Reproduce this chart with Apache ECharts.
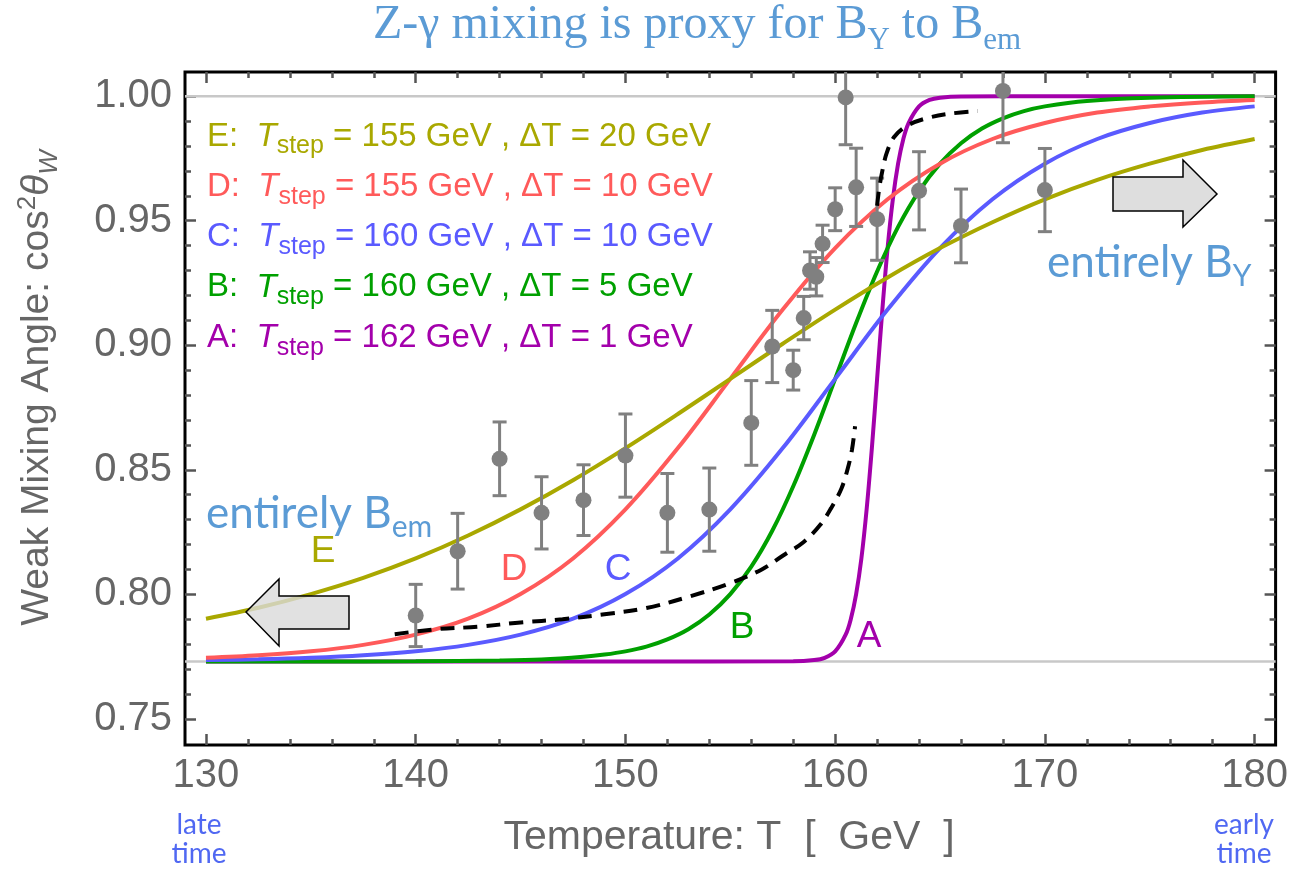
<!DOCTYPE html>
<html><head><meta charset="utf-8">
<script src="https://cdn.jsdelivr.net/npm/echarts@6/dist/echarts.min.js"></script>
<style>html,body{margin:0;padding:0;background:#fff}#c{width:1291px;height:869px}</style>
</head><body><div id="c"></div>
<script>
// ---------- data ----------
const tGrid = [130,132.5,135,137.5,140,142.5,145,147.5,150,152.5,155,157.5,160,162.5,165,167.5,170,172.5,175,177.5,180];
const curveE = [0.7902,0.7946,0.8001,0.8066,0.8144,0.8236,0.8341,0.8458,0.8587,0.8724,0.8865,0.9006,0.9143,0.9272,0.9390,0.9494,0.9586,0.9664,0.9729,0.9784,0.9828];
const curveD = [0.7745,0.7755,0.7771,0.7797,0.7838,0.7902,0.8001,0.8144,0.8341,0.8587,0.8865,0.9143,0.9390,0.9586,0.9729,0.9828,0.9892,0.9934,0.9959,0.9975,0.9985];
const curveC = [0.7736,0.7739,0.7745,0.7755,0.7771,0.7797,0.7838,0.7902,0.8001,0.8144,0.8341,0.8587,0.8865,0.9143,0.9390,0.9586,0.9729,0.9828,0.9892,0.9934,0.9959];
const tB = [130,135,140,144,146,148,149,150,151,152,153,154,155,156,157,158,159,160,161,162,163,164,165,166,167,168,169,170,172,175,180];
const curveB = [0.7730,0.7730,0.7731,0.7734,0.7738,0.7749,0.7758,0.7771,0.7790,0.7819,0.7860,0.7919,0.8001,0.8111,0.8255,0.8434,0.8641,0.8865,0.9089,0.9296,0.9475,0.9619,0.9729,0.9811,0.9870,0.9911,0.9940,0.9959,0.9981,0.9994,1.0000];
const tA = [130,150,158,159,159.5,160,160.5,160.75,161,161.25,161.5,161.75,162,162.25,162.5,162.75,163,163.25,163.5,164,164.5,165,166,170,180];
const curveA = [0.7730,0.7730,0.7731,0.7736,0.7745,0.7771,0.7838,0.7902,0.8001,0.8144,0.8341,0.8587,0.8865,0.9143,0.9390,0.9586,0.9729,0.9828,0.9892,0.9959,0.9985,0.9994,0.9999,1.0000,1.0000];
const dashLowT = [139.0,141.0,143.0,145.0,147.0,149.0,151.0,153.0,155.0,156.5,157.5,158.5,159.3,159.8,160.3,160.6,160.8,160.95];
const dashLowV = [0.7840,0.7860,0.7870,0.7887,0.7900,0.7920,0.7945,0.7990,0.8045,0.8100,0.8155,0.8210,0.8280,0.8345,0.8425,0.8505,0.8580,0.8675];
const dashHighT = [162.0,162.1,162.25,162.45,162.8,163.4,164.3,165.5,166.8];
const dashHighV = [0.9560,0.9630,0.9700,0.9770,0.9835,0.9880,0.9910,0.9930,0.9940];
const ptsT = [140,142,144,146,148,150,152,154,156,157,158,158.5,158.8,159.1,159.4,160,160.5,161,162,164,166,168,170];
const ptsV = [0.7915,0.8173,0.8544,0.8327,0.8378,0.8557,0.8327,0.8340,0.8688,0.8995,0.8900,0.9109,0.9300,0.9275,0.9407,0.9546,0.9995,0.9634,0.9506,0.9620,0.9479,1.0021,0.9623];
const ptsErr = [0.0125,0.0152,0.0148,0.0145,0.0142,0.0167,0.0158,0.0167,0.0170,0.0145,0.0080,0.0087,0.0075,0.0077,0.0075,0.0086,0.0190,0.0157,0.0165,0.0157,0.0148,0.0208,0.0167];
const refLines = [1.0, 0.773];
const xMajor = [130,140,150,160,170,180];
const xMinor = [132,134,136,138,142,144,146,148,152,154,156,158,162,164,166,168,172,174,176,178];
const yMajor = [0.75,0.80,0.85,0.90,0.95,1.00];
const yMinor = [0.76,0.77,0.78,0.79,0.81,0.82,0.83,0.84,0.86,0.87,0.88,0.89,0.91,0.92,0.93,0.94,0.96,0.97,0.98,0.99];
const xTickLabels = ['130','140','150','160','170','180'];
const yTickLabels = ['0.75','0.80','0.85','0.90','0.95','1.00'];
const legendKeys = ['E','D','C','B','A'];
const legendTstep = [155,155,160,160,162];
const legendDeltaT = [20,10,10,5,1];
const curveLabels = ['E','D','C','B','A'];

// ---------- style ----------
const SANS = '"Liberation Sans", Arial, sans-serif';
const CAL = 'Lato, "Open Sans", sans-serif';
const SERIF = '"Liberation Serif", "DejaVu Serif", serif';
const COL = {A:'#a300ab', B:'#00a000', C:'#5a5aff', D:'#ff5a5a', E:'#a9a800'};
const AXIS_GRAY = '#666666';
const TICK_GRAY = '#555555';
const BLUE_TXT = '#5b9bd5';
const TIME_BLUE = '#5068f2';

const XMIN = 129, XMAX = 181, YMIN = 0.7395, YMAX = 1.0097;

function xAxisDef(pos, values, len, labels) {
  return {
    type:'value', min:XMIN, max:XMAX, position:pos,
    axisLine:{show:false}, splitLine:{show:false},
    axisTick:{show:true, inside:true, length:len, customValues:values, lineStyle:{color:TICK_GRAY, width:2.5}},
    axisLabel: labels ? {show:true, customValues:values, margin:11, fontSize:40, fontFamily:SANS, color:AXIS_GRAY,
      formatter: v => xTickLabels[xMajor.indexOf(Math.round(v))]} : {show:false}
  };
}
function yAxisDef(pos, values, len, labels) {
  return {
    type:'value', min:YMIN, max:YMAX, position:pos,
    axisLine:{show:false}, splitLine:{show:false},
    axisTick:{show:true, inside:true, length:len, customValues:values, lineStyle:{color:TICK_GRAY, width:2.5}},
    axisLabel: labels ? {show:true, customValues:values, margin:13, fontSize:40, fontFamily:SANS, color:AXIS_GRAY,
      formatter: v => yTickLabels[yMajor.findIndex(m => Math.abs(m - v) < 1e-6)]} : {show:false}
  };
}

function lineSeries(ts, vs, color, z) {
  return {type:'line', data: ts.map((t,i)=>[t, vs[i]]), smooth:0.35, showSymbol:false,
    lineStyle:{color:color, width:4}, z:z, clip:true, silent:true};
}
function dashSeries(ts, vs) {
  return {type:'line', data: ts.map((t,i)=>[t, vs[i]]), smooth:0.35, showSymbol:false,
    lineStyle:{color:'#000', width:4, type:[14,9]}, z:6, clip:true, silent:true};
}

const legendColors = legendKeys.map(k => COL[k]);
const legendGraphics = legendKeys.map((k, i) => ({
  type:'text', left:207, top:120 + i*50.3, z:20, silent:true,
  style:{
    text: '{m|' + k + ':  }{it|T}{sub|step}{m| = ' + legendTstep[i] + ' GeV , ΔT = ' + legendDeltaT[i] + ' GeV}',
    rich:{
      m:{fontSize:33, fontFamily:SANS, fill:legendColors[i], lineHeight:33, verticalAlign:'bottom', padding:[0,0,6,0]},
      it:{fontSize:33, fontFamily:SANS, fontStyle:'italic', fill:legendColors[i], lineHeight:33, verticalAlign:'bottom', padding:[0,0,6,0]},
      sub:{fontSize:25, fontFamily:SANS, fill:legendColors[i], lineHeight:25, verticalAlign:'bottom'}
    }
  }
}));

const curveLabelPos = [[323,552],[514,570],[618,570],[742,628],[869,637]];
const curveLabelGraphics = curveLabels.map((k,i) => ({
  type:'text', x:curveLabelPos[i][0], y:curveLabelPos[i][1], z:20, silent:true,
  style:{text:k, fontSize:37, fontFamily:SANS, fill:COL[k], align:'center', verticalAlign:'middle'}
}));

const option = {
  animation:false,
  backgroundColor:'#fff',
  grid:{left:185, right:15, top:72, bottom:124, show:true, borderColor:'#000', borderWidth:3, backgroundColor:'transparent'},
  xAxis:[
    xAxisDef('bottom', xMajor, 11, true),
    xAxisDef('bottom', xMinor, 6, false),
    xAxisDef('top', xMajor, 11, false),
    xAxisDef('top', xMinor, 6, false)
  ],
  yAxis:[
    yAxisDef('left', yMajor, 11, true),
    yAxisDef('left', yMinor, 6, false),
    yAxisDef('right', yMajor, 11, false),
    yAxisDef('right', yMinor, 6, false)
  ],
  series:[
    {type:'custom', z:1, silent:true, clip:true,
      data: refLines.map(v => [XMIN, v]),
      renderItem:(params, api) => {
        const cs = params.coordSys;
        const y = api.coord([XMIN, api.value(1)])[1];
        return {type:'line', shape:{x1:cs.x, y1:y, x2:cs.x + cs.width, y2:y}, style:{stroke:'#c8c8c8', lineWidth:2.5}};
      }},
    lineSeries(tA, curveA, COL.A, 2),
    lineSeries(tB, curveB, COL.B, 2),
    lineSeries(tGrid, curveC, COL.C, 2),
    lineSeries(tGrid, curveD, COL.D, 2),
    lineSeries(tGrid, curveE, COL.E, 2),
    {type:'custom', z:4, clip:true, silent:true,
      data: ptsT.map((t,i)=>[t, ptsV[i], ptsErr[i]]),
      renderItem:(params, api) => {
        const x = api.value(0), y = api.value(1), e = api.value(2);
        const p = api.coord([x,y]), top = api.coord([x,y+e]), bot = api.coord([x,y-e]);
        const cw = 7, st = {stroke:'#808080', lineWidth:3};
        return {type:'group', children:[
          {type:'line', shape:{x1:p[0], y1:top[1], x2:p[0], y2:bot[1]}, style:st},
          {type:'line', shape:{x1:p[0]-cw, y1:top[1], x2:p[0]+cw, y2:top[1]}, style:st},
          {type:'line', shape:{x1:p[0]-cw, y1:bot[1], x2:p[0]+cw, y2:bot[1]}, style:st},
          {type:'circle', shape:{cx:p[0], cy:p[1], r:8}, style:{fill:'#808080'}}
        ]};
      }},
    dashSeries(dashLowT, dashLowV),
    dashSeries(dashHighT, dashHighV)
  ],
  graphic:[
    {type:'text', x:697, y:32, z:20, silent:true, style:{align:'center', verticalAlign:'middle',
      text:'{m|Z-γ mixing is proxy for B}{s|Y}{m| to B}{s|em}',
      rich:{m:{fontSize:48, fontFamily:SERIF, fill:BLUE_TXT, lineHeight:48, verticalAlign:'bottom', padding:[0,0,7,0]},
            s:{fontSize:31, fontFamily:SERIF, fill:BLUE_TXT, lineHeight:31, verticalAlign:'bottom'}}}},
    {type:'text', x:43, y:388, rotation:Math.PI/2, z:20, silent:true, style:{align:'center', verticalAlign:'middle',
      text:'{m|Weak Mixing Angle: cos}{sup|2}{it|θ}{sub|W}',
      rich:{m:{fontSize:39, fontFamily:SANS, fill:AXIS_GRAY, lineHeight:39, verticalAlign:'bottom', padding:[0,0,6,0]},
            it:{fontSize:39, fontFamily:SANS, fontStyle:'italic', fill:AXIS_GRAY, lineHeight:39, verticalAlign:'bottom', padding:[0,0,6,0]},
            sup:{fontSize:26, fontFamily:SANS, fill:AXIS_GRAY, lineHeight:26, verticalAlign:'bottom', padding:[0,0,22,0]},
            sub:{fontSize:26, fontFamily:SANS, fontStyle:'italic', fill:AXIS_GRAY, lineHeight:26, verticalAlign:'bottom'}}}},
    {type:'text', x:729, y:838, z:20, silent:true, style:{text:'Temperature: T  [  GeV  ]', align:'center', verticalAlign:'middle',
      fontSize:41, fontFamily:SANS, fill:AXIS_GRAY}},
    {type:'text', x:199, y:839, z:20, silent:true, style:{text:'late\ntime', align:'center', verticalAlign:'middle',
      fontSize:28, lineHeight:29, fontFamily:CAL, fill:TIME_BLUE}},
    {type:'text', x:1244, y:839, z:20, silent:true, style:{text:'early\ntime', align:'center', verticalAlign:'middle',
      fontSize:28, lineHeight:29, fontFamily:CAL, fill:TIME_BLUE}},
    {type:'text', x:206, y:520, z:20, silent:true, style:{align:'left', verticalAlign:'middle',
      text:'{m|entirely B}{s|em}',
      rich:{m:{fontSize:44, fontFamily:CAL, fill:BLUE_TXT, lineHeight:44, verticalAlign:'bottom', padding:[0,0,6,0]},
            s:{fontSize:30, fontFamily:CAL, fill:BLUE_TXT, lineHeight:30, verticalAlign:'bottom'}}}},
    {type:'text', x:1047, y:269, z:20, silent:true, style:{align:'left', verticalAlign:'middle',
      text:'{m|entirely B}{s|Y}',
      rich:{m:{fontSize:44, fontFamily:CAL, fill:BLUE_TXT, lineHeight:44, verticalAlign:'bottom', padding:[0,0,6,0]},
            s:{fontSize:30, fontFamily:CAL, fill:BLUE_TXT, lineHeight:30, verticalAlign:'bottom'}}}},
    {type:'polygon', z:15, silent:true,
      shape:{points:[[246,612],[279,579],[279,596],[349,596],[349,629],[279,629],[279,646]]},
      style:{fill:'rgba(218,218,218,0.8)', stroke:'#000', lineWidth:1.5}},
    {type:'polygon', z:15, silent:true,
      shape:{points:[[1217,194],[1183,160],[1183,177],[1113,177],[1113,211],[1183,211],[1183,227]]},
      style:{fill:'rgba(218,218,218,0.9)', stroke:'#000', lineWidth:1.5}}
  ].concat(legendGraphics, curveLabelGraphics)
};
const chart = echarts.init(document.getElementById('c'));
chart.setOption(option);
</script></body></html>
